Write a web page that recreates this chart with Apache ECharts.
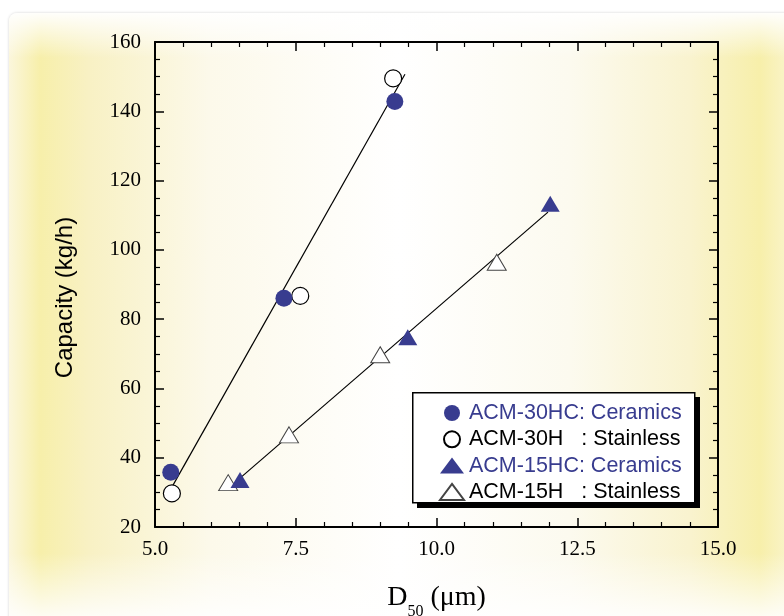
<!DOCTYPE html>
<html>
<head>
<meta charset="utf-8">
<script src="https://cdn.jsdelivr.net/npm/echarts@6/dist/echarts.min.js"></script>
<style>
html,body{margin:0;padding:0;background:#fff;width:784px;height:616px;overflow:hidden;}
#bg{position:absolute;left:9px;top:13px;width:800px;height:620px;border-radius:8px;
box-shadow:0 0 3px rgba(0,0,0,0.18);
background:
linear-gradient(to bottom, rgba(255,255,255,0.95) 0px, rgba(255,255,255,0) 45px, rgba(255,255,255,0) 540px, rgba(255,255,255,0.85) 603px),
linear-gradient(to right, #fbf6dc 0px, #f7efaa 31px, #f8f1c4 80px, #fcf9ea 200px, #ffffff 390px, #fcfaef 560px, #f9f3cf 680px, #f7efaa 751px, #f9f3c4 775px);}
#chart{position:absolute;left:0;top:0;width:784px;height:616px;}
</style>
</head>
<body>
<div id="bg"></div>
<div id="chart"></div>
<script>
// data
const x30HC = [5.28, 7.29, 9.26];
const y30HC = [35.8, 86.0, 142.8];
const x30H = [5.30, 7.58, 9.23];
const y30H = [29.7, 86.7, 149.5];
const x15HC = [6.51, 9.49, 12.02];
const y15HC = [33.6, 74.8, 113.3];
const x15H = [6.30, 7.38, 9.00, 11.07];
const y15H = [32.8, 46.6, 69.7, 96.4];
const fit30X = [5.32, 9.44];
const fit30Y = [32.1, 150.7];
const fit15X = [6.51, 11.98];
const fit15Y = [34.1, 110.9];
const names = ['ACM-30HC: Ceramics', 'ACM-30H   : Stainless', 'ACM-15HC: Ceramics', 'ACM-15H   : Stainless'];
const xTicks = [5.0, 7.5, 10.0, 12.5, 15.0];
const yTicks = [20, 40, 60, 80, 100, 120, 140, 160];

const zip = (xs, ys) => xs.map((x, i) => [x, ys[i]]);
const navy = '#383c8f';
const serif = 'Liberation Serif';
const sans = 'Liberation Sans';

const axisLine = {lineStyle: {color: '#000', width: 2}};
const axisTick = {inside: true, length: 9, lineStyle: {color: '#000', width: 1.5}};
const minorX = {show: true, splitNumber: 5, length: 5, lineStyle: {color: '#000', width: 1.2}};
const minorY = {show: true, splitNumber: 4, length: 5, lineStyle: {color: '#000', width: 1.2}};

const chart = echarts.init(document.getElementById('chart'), null, {renderer: 'canvas'});
chart.setOption({
  backgroundColor: 'transparent',
  animation: false,
  grid: {left: 155, top: 42, right: 66, bottom: 89, containLabel: false, outerBoundsMode: 'none'},
  xAxis: [
    {type: 'value', min: xTicks[0], max: xTicks[xTicks.length - 1], interval: 2.5,
      position: 'bottom', axisLine, axisTick, minorTick: minorX, splitLine: {show: false},
      axisLabel: {color: '#000', fontFamily: serif, fontSize: 21, margin: 12, formatter: v => v.toFixed(1)},
      name: '{d|D}{s|50}{d| (μm)}', nameLocation: 'middle', nameGap: 57,
      nameTextStyle: {color: '#000', fontFamily: serif,
        rich: {d: {fontFamily: serif, fontSize: 28, color: '#000', lineHeight: 36, verticalAlign: 'top'},
               s: {fontFamily: serif, fontSize: 16, color: '#000', lineHeight: 36, verticalAlign: 'bottom'}}}
    },
    {type: 'value', min: xTicks[0], max: xTicks[xTicks.length - 1], interval: 2.5,
      position: 'top', axisLabel: {show: false}, axisLine, axisTick, minorTick: minorX, splitLine: {show: false}}
  ],
  yAxis: [
    {type: 'value', min: yTicks[0], max: yTicks[yTicks.length - 1], interval: 20,
      position: 'left', axisLine, axisTick, minorTick: minorY, splitLine: {show: false},
      axisLabel: {color: '#000', fontFamily: serif, fontSize: 21, margin: 14},
      name: 'Capacity (kg/h)', nameLocation: 'middle', nameGap: 78, nameRotate: 90,
      nameTextStyle: {color: '#000', fontFamily: sans, fontSize: 24, padding: [0, 26, 0, 0]}
    },
    {type: 'value', min: yTicks[0], max: yTicks[yTicks.length - 1], interval: 20,
      position: 'right', axisLabel: {show: false}, axisLine, axisTick, minorTick: minorY, splitLine: {show: false}}
  ],
  graphic: [
    {type: 'rect', id: 'legShadow', left: 417, top: 397, z: 20, silent: true,
      shape: {width: 283, height: 111}, style: {fill: '#000'}},
    {type: 'rect', id: 'legBox', left: 412, top: 392, z: 21, silent: true,
      shape: {width: 282, height: 110}, style: {fill: '#fff', stroke: '#000', lineWidth: 1.5}}
  ],
  legend: {
    orient: 'vertical', left: 439, top: 402, z: 30,
    padding: 0, itemGap: 4.3, itemWidth: 24, itemHeight: 16,
    textStyle: {fontFamily: sans, fontSize: 21.5, color: '#000', lineHeight: 20},
    data: [
      {name: names[0], icon: 'circle', textStyle: {color: navy}},
      {name: names[1], icon: 'circle', textStyle: {color: '#000'}},
      {name: names[2], icon: 'triangle', textStyle: {color: navy}},
      {name: names[3], icon: 'triangle', textStyle: {color: '#000'}}
    ]
  },
  series: [
    {type: 'line', data: zip(fit30X, fit30Y), symbol: 'none', silent: true,
      lineStyle: {color: '#000', width: 1.2}, z: 1},
    {type: 'line', data: zip(fit15X, fit15Y), symbol: 'none', silent: true,
      lineStyle: {color: '#000', width: 1.2}, z: 1},
    {name: names[1], type: 'scatter', data: zip(x30H, y30H), symbol: 'circle', symbolSize: 17,
      itemStyle: {color: '#fff', borderColor: '#000', borderWidth: 1.2, opacity: 1}, z: 3},
    {name: names[0], type: 'scatter', data: zip(x30HC, y30HC), symbol: 'circle', symbolSize: 17,
      itemStyle: {color: navy, opacity: 1}, z: 4},
    {name: names[3], type: 'scatter', data: zip(x15H, y15H), symbol: 'triangle', symbolSize: [19, 16],
      itemStyle: {color: '#fff', borderColor: '#444', borderWidth: 1, opacity: 1}, z: 3},
    {name: names[2], type: 'scatter', data: zip(x15HC, y15HC), symbol: 'triangle', symbolSize: [19, 16],
      itemStyle: {color: navy, opacity: 1}, z: 4}
  ]
});
</script>
</body>
</html>
